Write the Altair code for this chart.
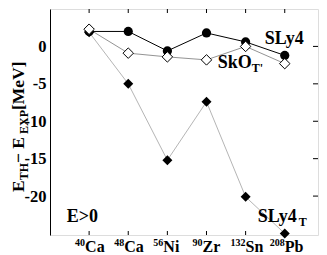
import altair as alt
import pandas as pd

# ---- data ----
mass = ["40", "48", "56", "90", "132", "208"]
elem = ["Ca", "Ca", "Ni", "Zr", "Sn", "Pb"]
pos = [1, 2, 3, 4, 5, 6]
sly4 = [2.0, 2.0, -0.6, 1.8, 0.6, -1.2]
skot = [2.3, -0.9, -1.4, -1.8, 0.0, -2.3]
sly4t = [1.9, -5.0, -15.2, -7.4, -20.1, -25.0]
yticks = [-20, -15, -10, -5, 0]

W, H = 268, 226
FONT = "Liberation Serif"

df = pd.DataFrame({"pos": pos, "mass": mass, "elem": elem,
                   "sly4": sly4, "skot": skot, "sly4t": sly4t})
dft = pd.DataFrame({"v": yticks})

xs = alt.Scale(domain=[0, 6.85], nice=False, zero=False)
ys = alt.Scale(domain=[-25.2, 5], nice=False, zero=False)
X = alt.X("pos:Q", scale=xs, axis=None)
YAX = alt.Axis(values=yticks, ticks=False, grid=False, title=None,
               labelFont=FONT, labelFontWeight="bold", labelFontSize=16.5,
               labelColor="black", domainColor="black", domainWidth=1,
               labelPadding=4, labelExpr="'' + datum.value")

def Y(f):
    return alt.Y(f, scale=ys, axis=YAX)

base = alt.Chart(df)

# lines
l_t = base.mark_line(color="#b5b5b5", strokeWidth=1).encode(x=X, y=Y("sly4t:Q"))
l_sko = base.mark_line(color="#777777", strokeWidth=0.8).encode(x=X, y=Y("skot:Q"))
l_sly = base.mark_line(color="black", strokeWidth=1).encode(x=X, y=Y("sly4:Q"))

p_t = base.mark_point(shape="diamond", filled=True, color="black", size=100, opacity=1).encode(
    x=X, y=Y("sly4t:Q"))
p_sly = base.mark_point(shape="circle", filled=True, color="black", size=85, opacity=1).encode(
    x=X, y=Y("sly4:Q"))
p_sko = base.mark_point(shape="diamond", filled=True, fill="white", stroke="black",
                        strokeWidth=1, size=110, opacity=1).encode(
    x=X, y=Y("skot:Q"))

# inward ticks (top, bottom, right)
t_top = base.mark_rule(color="black", strokeWidth=1).encode(
    x=X, y=alt.value(0), y2=alt.value(4))
t_bot = base.mark_rule(color="black", strokeWidth=1).encode(
    x=X, y=alt.value(H), y2=alt.value(H - 4))
t_right = alt.Chart(dft).mark_rule(color="black", strokeWidth=1).encode(
    y=Y("v:Q"), x=alt.value(W - 5), x2=alt.value(W))

# x tick labels: superscript mass + element
def xlab(n, dx):
    b = base.transform_filter(f"length(datum.mass) == {n}")
    el = b.mark_text(font=FONT, fontWeight="bold", fontSize=16, align="left",
                     baseline="alphabetic", dx=dx, color="black").encode(
        x=X, y=alt.value(H + 17), text="elem:N")
    ms = b.mark_text(font=FONT, fontWeight="bold", fontSize=10, align="right",
                     baseline="alphabetic", dx=dx, color="black").encode(
        x=X, y=alt.value(H + 11), text="mass:N")
    return [el, ms]

xlabels = xlab(2, -4) + xlab(3, 0)

# y-axis title built from pieces (rotated)
y0 = H / 2 + 70
pieces = [("E", 17.5, -26, 11.7), ("TH", 12, -22, 17.3), (" \u2212 E", 17.5, -26, 29.0),
          ("EXP", 12, -22, 24.0), (" [MeV]", 17.5, -26, 53.0)]
title_layers = []
cur = y0
for txt, fs, xb, w in pieces:
    title_layers.append(
        alt.Chart(pd.DataFrame({"t": [txt]})).mark_text(
            font=FONT, fontWeight="bold", fontSize=fs, angle=270, align="left",
            baseline="alphabetic", color="black").encode(
            x=alt.value(xb), y=alt.value(cur), text="t:N"))
    cur -= w

# annotations
def ann(txt, xp, yv, fs=18, dx=0, dy=0):
    return alt.Chart(pd.DataFrame({"t": [txt]})).mark_text(
        font=FONT, fontWeight="bold", fontSize=fs, align="left", baseline="middle",
        dx=dx, dy=dy, color="black").encode(
        x=alt.datum(xp, scale=xs), y=alt.datum(yv, scale=ys), text="t:N")

anns = [
    ann("SLy4", 5.49, 1.0),
    ann("SkO", 4.29, -2.26),
    ann("T'", 4.29, -2.26, fs=12, dx=34, dy=5),
    ann("SLy4", 5.31, -22.75),
    ann("T", 5.31, -22.75, fs=12, dx=41, dy=5),
    ann("E>0", 0.43, -22.75),
]

chart = alt.layer(
    l_t, l_sko, l_sly, p_t, p_sly, p_sko, t_top, t_bot, t_right,
    *xlabels, *title_layers, *anns
).properties(
    width=W, height=H,
    autosize=alt.AutoSizeParams(type="none"),
    padding={"left": 42, "top": 1, "right": 1, "bottom": 20},
).configure_view(stroke="black", strokeWidth=1
).configure(background="white")

chart.save("out.html", embed_options={"renderer": "svg", "actions": False})
